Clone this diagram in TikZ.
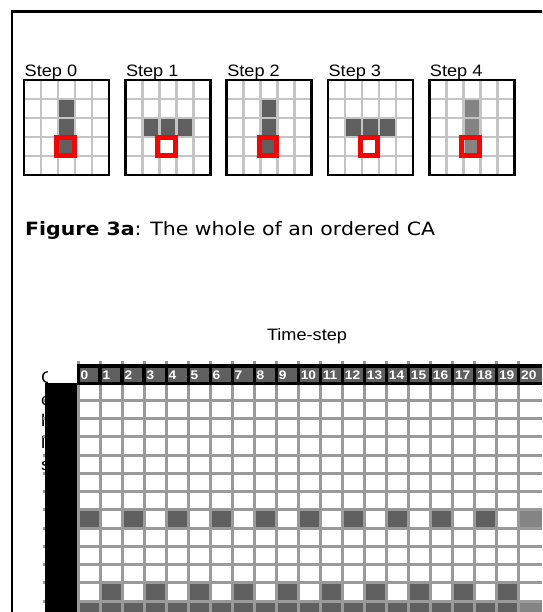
\documentclass[tikz,border=0pt]{standalone}
\usepackage{fontspec}
\setmainfont{Liberation Sans}[FakeStretch=1.1]
\newfontfamily\capfont{DejaVu Sans}[FakeStretch=1.12]

\definecolor{cadark}{HTML}{5F5F5F}
\definecolor{calight}{HTML}{848484}
\definecolor{minigrid}{HTML}{C4C4C4}
\definecolor{maingrid}{HTML}{9A9A9A}
\definecolor{hired}{HTML}{FF0000}

\tikzset{
  panelframe/.style={draw=black, line width=2.8pt},
  minigridline/.style={draw=minigrid, line width=2.6pt},
  maingridline/.style={draw=maingrid, line width=3pt},
  focus/.style={draw=hired, line width=5pt},
  steplabel/.style={anchor=base west, inner sep=0pt, font=\fontsize{16.5}{19}\selectfont},
  colnum/.style={anchor=base west, inner sep=0pt, text=white, font=\bfseries\fontsize{12.5}{14}\selectfont},
  sidechar/.style={anchor=base west, inner sep=0pt, font=\fontsize{17}{20}\selectfont},
  % one 5x5 snapshot of the automaton: live cells, their shade, caption
  pics/capanel/.style n args={3}{code={
    \fill[white] (0,0) rectangle (85,95);
    \foreach \c/\r in {#1} \fill[#2] (\c*17,\r*19) rectangle ++(17,19);
    \foreach \k in {1,...,4} {
      \draw[minigridline] (\k*17,0) -- (\k*17,95);
      \draw[minigridline] (0,\k*19) -- (85,\k*19);
    }
    \draw[panelframe] (0,0) rectangle (85,95);
    \draw[focus] (32.5,58) rectangle (50,76);
    \node[steplabel] (-lab) at (0.5,-3.5) {#3};
  }}
}

\begin{document}
\begin{tikzpicture}[x=1pt, y=-1pt, line join=miter]
\useasboundingbox (0,0) rectangle (542,612);
\clip (0,0) rectangle (542,612);
\fill[white] (0,0) rectangle (542,612);

% page frame
\draw[line width=2.8pt] (12,614) -- (12,11.2) -- (544,11.2);

% the five snapshots
\pic (p0) at (24,80)    {capanel={2/1,2/2,2/3}{cadark}{Step 0}};
\pic (p1) at (125.3,80) {capanel={1/2,2/2,3/2}{cadark}{Step 1}};
\pic (p2) at (226.6,80) {capanel={2/1,2/2,2/3}{cadark}{Step 2}};
\pic (p3) at (327.9,80) {capanel={1/2,2/2,3/2}{cadark}{Step 3}};
\pic (p4) at (429.2,80) {capanel={2/1,2/2,2/3}{calight}{Step 4}};

% caption
\node[anchor=base west, inner sep=0pt, font=\capfont\fontsize{18.3}{22}\selectfont] (cap) at (25,235)
  {\textbf{Figure 3a}: The whole of an ordered CA};

% time axis title
\node[anchor=base, inner sep=0pt, font=\fontsize{16.5}{19}\selectfont] (tlabel) at (307,340.5) {Time-step};

% side text, partly hidden by the black bar
\begin{scope}
  \clip (30,360) rectangle (47,480);
  \node[sidechar] (sc1) at (41,383)   {C};
  \node[sidechar] (sc2) at (41,405)   {e};
  \node[sidechar] (sc3) at (41,426.7) {l};
  \node[sidechar] (sc4) at (41,448)   {l};
  \node[sidechar] (sc5) at (41,470)   {s};
\end{scope}

% live cells of the time-step grid
\foreach \c in {0,2,...,18} \fill[cadark] ({78+22.03*\c},509.75) rectangle ++(22.03,18.25);
\fill[calight] (518.6,509.75) rectangle (542,528);
\foreach \c in {1,3,...,19} \fill[cadark] ({78+22.03*\c},582.75) rectangle ++(22.03,18.25);
\fill[cadark] (78,601) rectangle (518.6,612);
\fill[calight] (518.6,601) rectangle (542,612);

% grid lines
\foreach \k in {0,...,20} \draw[maingridline] ({78+22.03*\k},361) -- ({78+22.03*\k},612);
\foreach \r in {1,...,12} \draw[maingridline] (43,{382+18.25*\r}) -- (542,{382+18.25*\r});

% black bar on the left
\fill[black] (45,383) rectangle (77,612);

% header row with time-step numbers
\fill[black] (77,364) rectangle (542,385);
\foreach \k in {0,...,19}
  \fill[cadark] ({78+22.03*\k+1.6},367.5) rectangle ({78+22.03*(\k+1)-1.6},381.5);
\fill[cadark] ({78+22.03*20+1.6},367.5) rectangle (542,381.5);
\foreach \k in {0,...,20}
  \node[colnum] (h\k) at ({78+22.03*\k+2.3},379.5) {\k};
\end{tikzpicture}
\end{document}
